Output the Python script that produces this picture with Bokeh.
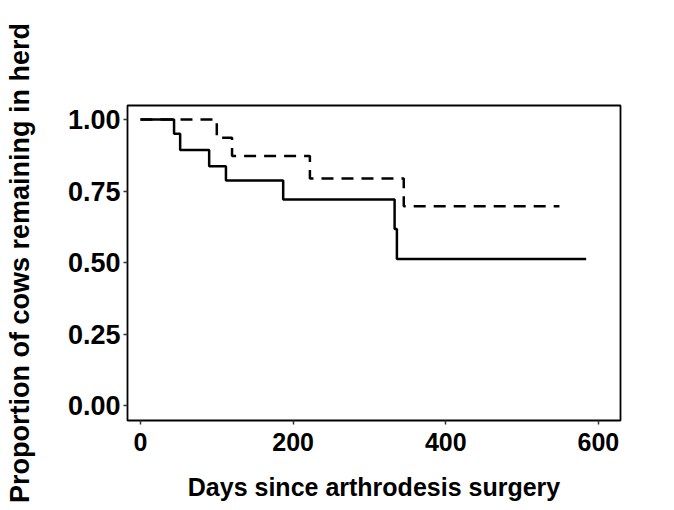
from bokeh.plotting import figure
from bokeh.models import Range1d, FixedTicker, PrintfTickFormatter
from bokeh.embed import file_html
from bokeh.resources import INLINE

# Kaplan-Meier style step data
solid_days = [0, 44, 52, 90, 112, 187, 333, 336, 584]
solid_prop = [1.0, 0.950, 0.894, 0.837, 0.787, 0.721, 0.618, 0.513, 0.513]
dashed_days = [0, 100, 120, 222, 345, 549]
dashed_prop = [1.0, 0.936, 0.873, 0.794, 0.697, 0.697]

x_ticks = [0, 200, 400, 600]
y_ticks = [0.0, 0.25, 0.5, 0.75, 1.0]

FONT = "Liberation Sans"

p = figure(width=674, height=510, output_backend="svg", toolbar_location=None,
           x_range=Range1d(-17, 629), y_range=Range1d(-0.051, 1.049),
           min_border_left=127, min_border_right=54, min_border_top=105,
           min_border_bottom=90)

p.step(solid_days, solid_prop, mode="after", line_color="black", line_width=2.5)
p.step(dashed_days, dashed_prop, mode="after", line_color="black", line_width=2.5,
       line_dash="12 8")

p.grid.visible = False
p.background_fill_color = "white"
p.border_fill_color = "white"
p.outline_line_color = "black"
p.outline_line_width = 1.8
p.outline_line_alpha = 1.0

p.xaxis.ticker = FixedTicker(ticks=x_ticks)
p.yaxis.ticker = FixedTicker(ticks=y_ticks)
p.yaxis.formatter = PrintfTickFormatter(format="%.2f")

for ax in (p.xaxis, p.yaxis):
    ax.axis_line_color = None
    ax.major_tick_line_color = "#333333"
    ax.major_tick_line_width = 1.5
    ax.major_tick_in = 0
    ax.major_tick_out = 4
    ax.minor_tick_line_color = None
    ax.major_label_text_font = FONT
    ax.major_label_text_font_style = "bold"
    ax.major_label_text_color = "black"
    ax.axis_label_text_font = FONT
    ax.axis_label_text_font_style = "bold"
    ax.axis_label_text_color = "black"

p.xaxis.major_label_text_font_size = "25px"
p.yaxis.major_label_text_font_size = "27px"
p.xaxis.axis_label_text_font_size = "25px"
p.yaxis.axis_label_text_font_size = "27px"

p.xaxis.axis_label = "Days since arthrodesis surgery"
p.yaxis.axis_label = "Proportion of cows remaining in herd"
p.xaxis.major_label_standoff = 8
p.yaxis.major_label_standoff = 3
p.xaxis.axis_label_standoff = 19
p.yaxis.axis_label_standoff = 30

open("out.html", "w").write(file_html(p, INLINE))
